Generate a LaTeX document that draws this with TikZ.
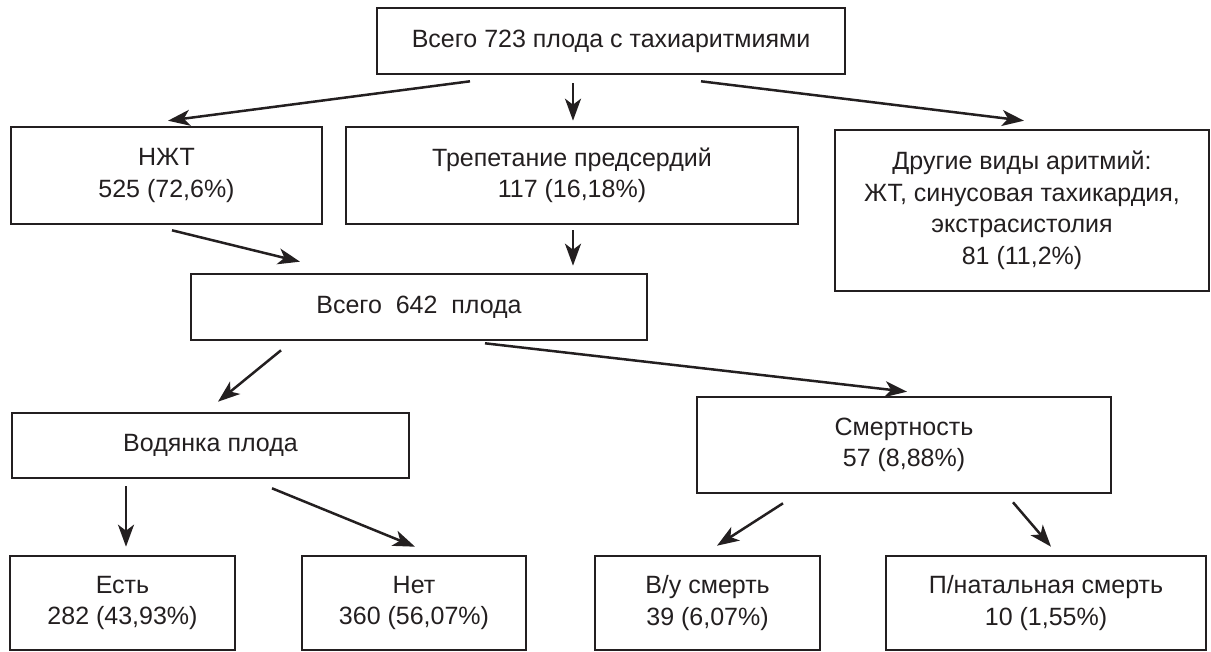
\documentclass[tikz,border=0pt]{standalone}
\usepackage{fontspec}
\setmainfont{Liberation Sans}
\usetikzlibrary{arrows.meta}
\definecolor{ink}{RGB}{35,31,32}
\begin{document}
\begin{tikzpicture}[x=1pt,y=-1pt,
  box/.style={draw=ink, line width=2.6pt, align=center, inner sep=0pt,
    font=\fontsize{25}{31.5}\selectfont, text=ink},
  arr/.style={line width=2.5pt, draw=ink, fill=ink,
    -{Stealth[length=22pt,width=16pt,inset=6pt]}}]
\useasboundingbox (0,0) rectangle (1211,652);
\node[box, minimum width=468pt, minimum height=66pt] (top) at (611,41) {Всего 723 плода с тахиаритмиями};
\node[box, minimum width=311pt, minimum height=97pt] (nzht) at (166.5,175.5) {НЖТ\\525 (72,6\%)};
\node[box, minimum width=452pt, minimum height=97pt] (trep) at (572,175.5) {Трепетание предсердий\\117 (16,18\%)};
\node[box, minimum width=374pt, minimum height=161pt] (other) at (1022,210.5) {Другие виды аритмий:\\ЖТ, синусовая тахикардия,\\экстрасистолия\\81 (11,2\%)};
\node[box, minimum width=456pt, minimum height=66pt] (all) at (419,307) {Всего\ \ 642\ \ плода};
\node[box, minimum width=397pt, minimum height=65pt] (vod) at (210.5,445.5) {Водянка плода};
\node[box, minimum width=414pt, minimum height=96pt] (mort) at (904,445) {Смертность\\57 (8,88\%)};
\node[box, minimum width=225pt, minimum height=94pt] (est) at (122.5,603) {Есть\\282 (43,93\%)};
\node[box, minimum width=224pt, minimum height=94pt] (net) at (414,603) {Нет\\360 (56,07\%)};
\node[box, minimum width=225pt, minimum height=94pt] (vu) at (707.5,603) {В/у смерть\\39 (6,07\%)};
\node[box, minimum width=320pt, minimum height=94pt] (pn) at (1046,603) {П/натальная смерть\\10 (1,55\%)};

\draw[arr] ([shift={(-141,6)}]top.south) -- ([shift={(1.5,-5)}]nzht.north);
\draw[arr] ([shift={(-38,8)}]top.south) -- ([shift={(1,-5)}]trep.north);
\draw[arr] ([shift={(90,6)}]top.south) -- ([shift={(2,-8)}]other.north);
\draw[arr] ([shift={(5.5,5)}]nzht.south) -- ([shift={(-119,-11)}]all.north);
\draw[arr] ([shift={(1,5)}]trep.south) -- ([shift={(154,-7)}]all.north);
\draw[arr] ([shift={(-138,9)}]all.south) -- ([shift={(7.5,-10)}]vod.north);
\draw[arr] ([shift={(66,2)}]all.south) -- ([shift={(3,-4)}]mort.north);
\draw[arr] ([shift={(-84.5,7)}]vod.south) -- ([shift={(3.5,-8)}]est.north);
\draw[arr] ([shift={(61.5,9)}]vod.south) -- ([shift={(1,-8)}]net.north);
\draw[arr] ([shift={(-121,9)}]mort.south) -- ([shift={(9.5,-9)}]vu.north);
\draw[arr] ([shift={(109,8)}]mort.south) -- ([shift={(5,-8)}]pn.north);
\end{tikzpicture}
\end{document}
